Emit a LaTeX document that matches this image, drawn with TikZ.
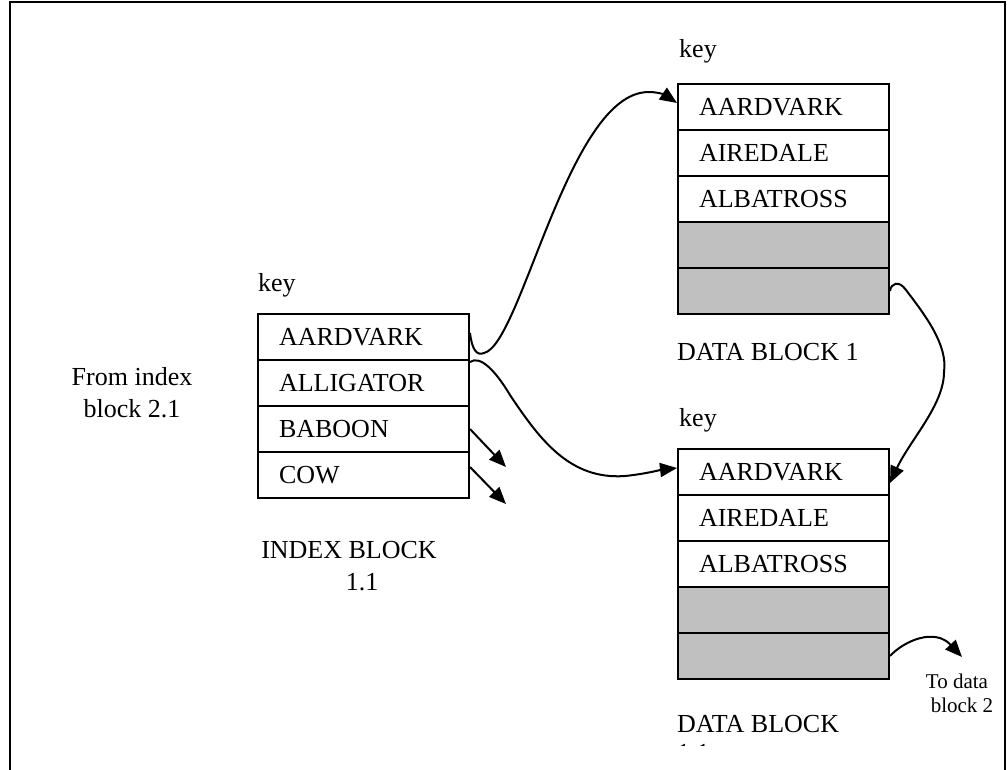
\documentclass[tikz,border=0pt]{standalone}
\usepackage{fontspec}
\setmainfont{Liberation Serif}
\usetikzlibrary{arrows.meta}
\definecolor{cellgray}{RGB}{192,192,192}
\tikzset{
 cell/.style={draw, line width=2pt, anchor=north west, minimum height=46pt, text width=169pt, inner xsep=21pt, inner ysep=0pt, align=left, font=\fontsize{26}{31}\selectfont},
 shaded/.style={cell, fill=cellgray},
 lbl/.style={inner sep=0pt, font=\fontsize{26}{31}\selectfont},
 small/.style={inner sep=0pt, font=\fontsize{21}{24}\selectfont},
 link/.style={line width=2pt, -{Triangle[length=17pt,width=14pt]}},
}
\begin{document}
\begin{tikzpicture}[x=1pt,y=-1pt]
\useasboundingbox (0,0) rectangle (1008,770);
\draw[line width=2.5pt] (10,770) -- (10,2) -- (1005,2) -- (1005,770);

% index block
\node[lbl, anchor=base west] (ikey) at (258,291) {key};
\node[cell] (i1) at (257,313) {AARDVARK};
\node[cell] (i2) at (257,359) {ALLIGATOR};
\node[cell] (i3) at (257,405) {BABOON};
\node[cell] (i4) at (257,451) {COW};
\node[lbl, anchor=base] (ilab1) at (349,558) {INDEX BLOCK};
\node[lbl, anchor=base] (ilab2) at (362,590) {1.1};

% from index label
\node[lbl, anchor=base] (from1) at (132,385) {From index};
\node[lbl, anchor=base] (from2) at (132,417) {block 2.1};

% data block 1
\node[lbl, anchor=base west] (d1key) at (679,58) {key};
\node[cell] (d1a) at (677,83) {AARDVARK};
\node[cell] (d1b) at (677,129) {AIREDALE};
\node[cell] (d1c) at (677,175) {ALBATROSS};
\node[shaded] (d1d) at (677,221) {};
\node[shaded] (d1e) at (677,267) {};
\node[lbl, anchor=base west] (d1lab) at (677,360) {DATA BLOCK 1};

% data block 2
\node[lbl, anchor=base west] (d2key) at (679,426) {key};
\node[cell] (d2a) at (677,448) {AARDVARK};
\node[cell] (d2b) at (677,494) {AIREDALE};
\node[cell] (d2c) at (677,540) {ALBATROSS};
\node[shaded] (d2d) at (677,586) {};
\node[shaded] (d2e) at (677,632) {};
\node[lbl, anchor=base west] (d2lab) at (677,732) {DATA BLOCK};
\begin{scope}
\clip (660,700) rectangle (780,745);
\node[lbl, anchor=base west] (d2num) at (677,761) {1.1};
\end{scope}

\node[small, anchor=base] (to1) at (957,688) {To data};
\node[small, anchor=base] (to2) at (962,712) {block 2};

\coordinate (bend1) at (506,467);
\coordinate (bend2) at (506,504);
\coordinate (tonext) at (962,657);

% connectors
\draw[link] ([yshift=4pt]i1.east) .. controls (472,350) and (477,356) .. (484,353)
  .. controls (520,345) and (565,110) .. (640,93)
  .. controls (653,90) and (665,95) .. ([yshift=4pt]d1a.west);
\draw[link] ([yshift=-3pt]i2.north east) .. controls (480,355) and (495,370) .. (510,395)
  .. controls (540,440) and (570,480) .. (625,476)
  .. controls (645,474) and (660,470) .. ([yshift=4pt]d2a.west);
\draw[link] (i3.east) -- (bend1);
\draw[link] ([yshift=8pt]i4.east) -- (bend2);
\draw[link] (d1e.east) .. controls (891,283) and (899,280) .. (906,290)
  .. controls (925,315) and (948,345) .. (944,372)
  .. controls (944,405) and (910,440) .. ([yshift=-11pt]d2a.east);
\draw[link] (d2e.east) .. controls (905,640) and (935,628) .. (tonext);
\end{tikzpicture}
\end{document}
